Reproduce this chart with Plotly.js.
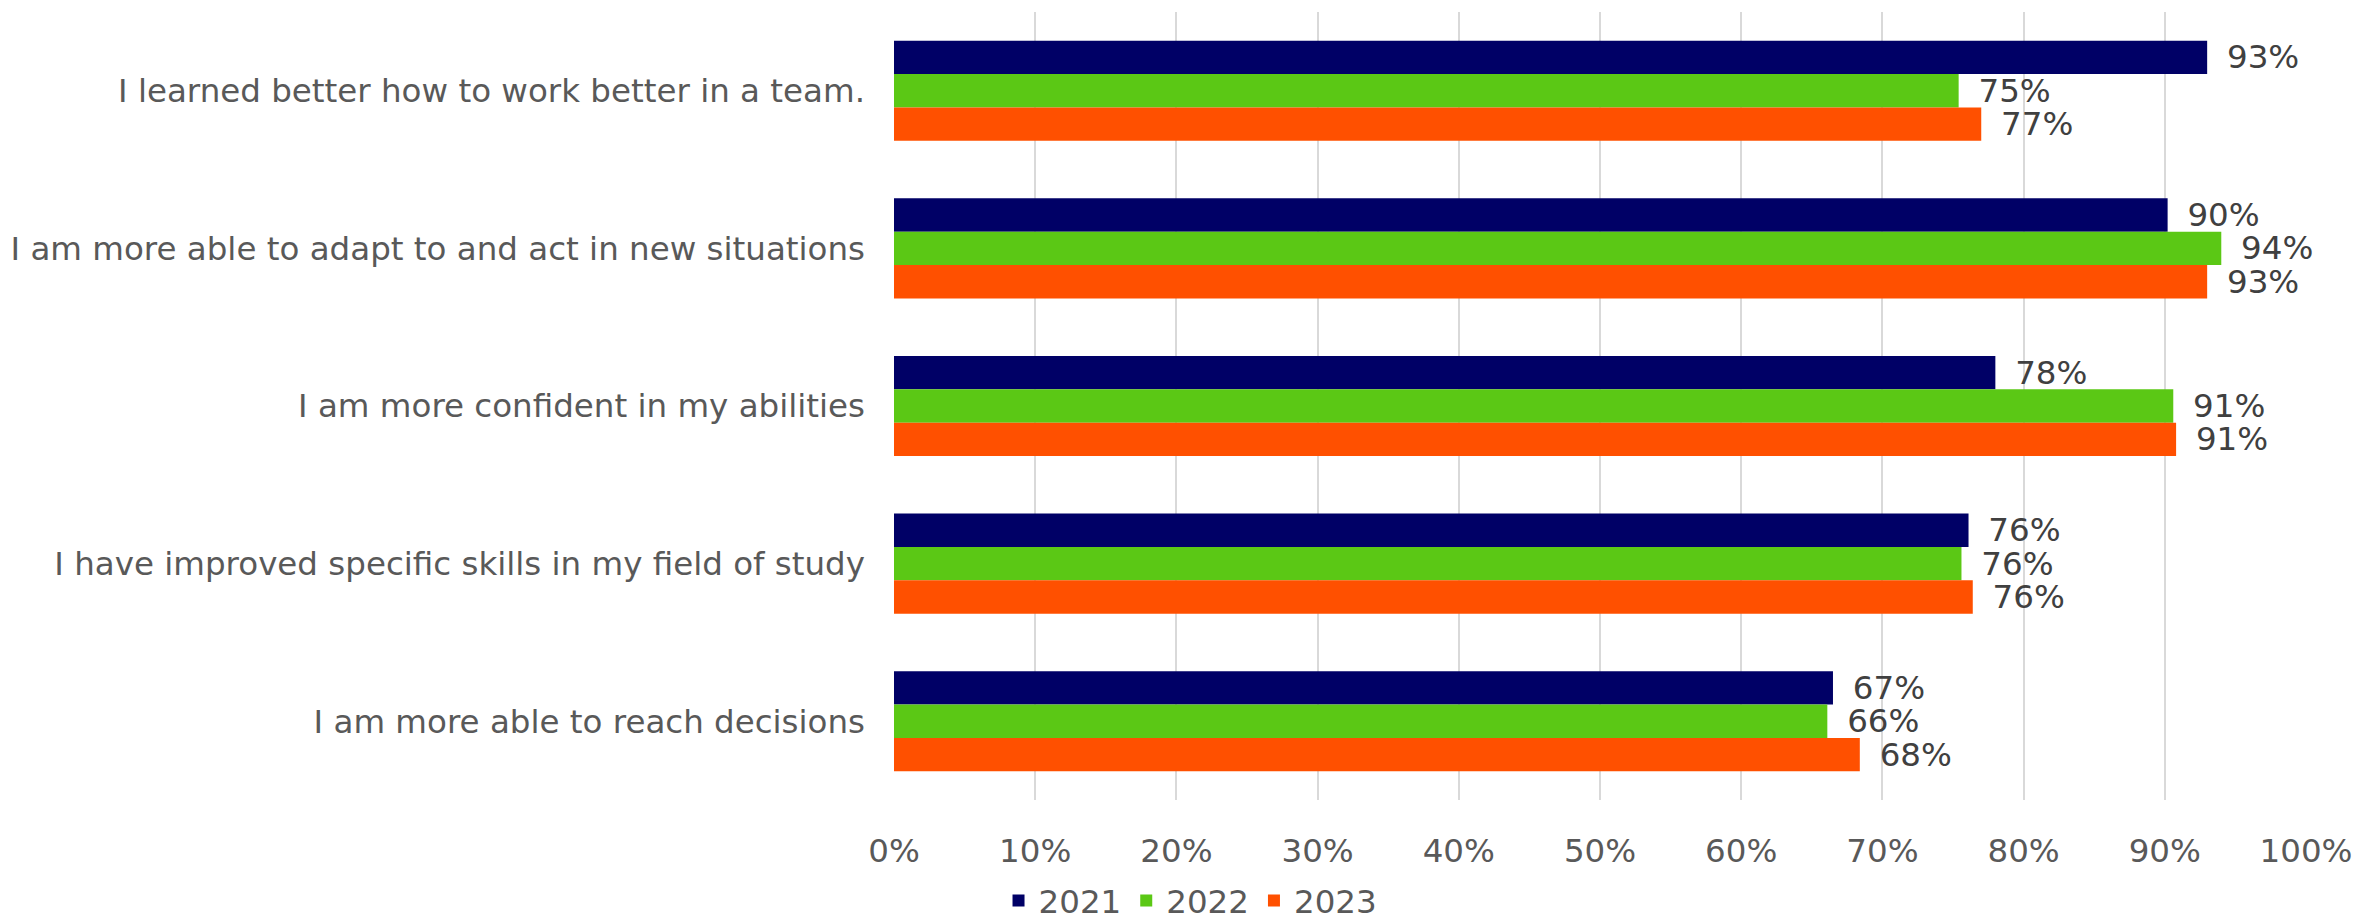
<!DOCTYPE html>
<html>
<head>
<meta charset="utf-8">
<script src="https://cdn.plot.ly/plotly-3.0.1.min.js"></script>
<style>html,body{margin:0;padding:0;background:#fff;}#chart{width:2359px;height:924px;}</style>
</head>
<body>
<div id="chart"></div>
<script>
const categories = [
  "I learned better how to work better in a team.",
  "I am more able to adapt to and act in new situations",
  "I am more confident in my abilities",
  "I have improved specific skills in my field of study",
  "I am more able to reach decisions"
];
const seriesNames = ["2021", "2022", "2023"];
const values2021 = [0.930, 0.902, 0.780, 0.761, 0.665];
const values2022 = [0.754, 0.940, 0.906, 0.756, 0.661];
const values2023 = [0.770, 0.930, 0.908, 0.764, 0.684];
const colors = ["#000066", "#5BC815", "#FF5000"];
const xTicks = [0, 0.1, 0.2, 0.3, 0.4, 0.5, 0.6, 0.7, 0.8, 0.9, 1.0];

const font = "DejaVu Sans, Verdana, sans-serif";
const allValues = [values2021, values2022, values2023];
const data = allValues.map((v, i) => ({
  type: "bar",
  orientation: "h",
  name: seriesNames[i],
  y: categories,
  x: v,
  marker: {color: colors[i]},
  texttemplate: "\u00a0\u2009%{x:.0%}",
  textposition: "outside",
  constraintext: "none",
  cliponaxis: false,
  textfont: {family: font, size: 32.5, color: "#404040"},
  hoverinfo: "skip"
}));

const layout = {
  width: 2359,
  height: 924,
  paper_bgcolor: "#ffffff",
  plot_bgcolor: "#ffffff",
  margin: {l: 894, r: 53, t: 12, b: 124, autoexpand: false},
  barmode: "group",
  bargap: 0.365,
  bargroupgap: 0,
  showlegend: true,
  font: {family: font, size: 32.5, color: "#595959"},
  xaxis: {
    range: [0, 1],
    tickvals: xTicks,
    tickformat: ".0%",
    showgrid: true,
    gridcolor: "#d9d9d9",
    gridwidth: 2,
    zeroline: false,
    showline: false,
    ticks: "",
    ticklabelstandoff: 28,
    automargin: false,
    tickfont: {family: font, size: 32.5, color: "#595959"}
  },
  yaxis: {
    autorange: "reversed",
    type: "category",
    showgrid: false,
    zeroline: false,
    showline: false,
    ticks: "",
    ticklabelstandoff: 28,
    automargin: false,
    tickfont: {family: font, size: 32.5, color: "#595959"}
  },
  legend: {
    orientation: "h",
    x: 0.21,
    xanchor: "center",
    y: -0.128,
    yanchor: "middle",
    font: {family: font, size: 32.5, color: "#595959"},
    traceorder: "normal"
  }
};

Plotly.newPlot("chart", data, layout, {displayModeBar: false, staticPlot: true});
</script>
</body>
</html>
